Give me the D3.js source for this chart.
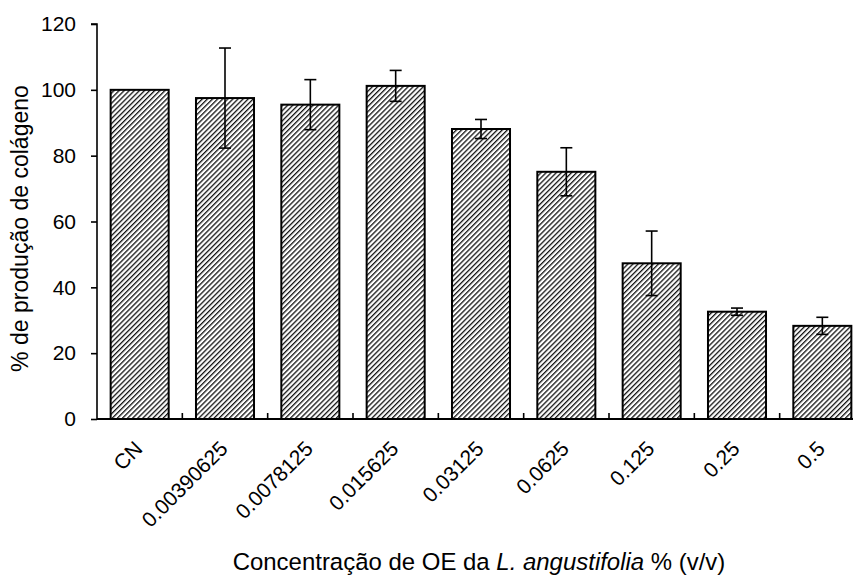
<!DOCTYPE html>
<html><head><meta charset="utf-8">
<script src="https://cdn.jsdelivr.net/npm/d3@7"></script>
<style>body{margin:0;background:#fff}svg{display:block}text{font-family:"Liberation Sans",Arial,sans-serif;fill:#000}</style>
</head><body>
<svg id="c" width="857" height="579"></svg>
<script>
const categories = ["CN","0.00390625","0.0078125","0.015625","0.03125","0.0625","0.125","0.25","0.5"];
const values = [100, 97.5, 95.5, 101.2, 88.1, 75.1, 47.3, 32.6, 28.3];
const errors = [0, 15.2, 7.6, 4.7, 2.9, 7.3, 9.8, 1.1, 2.6];
const yTicks = [0,20,40,60,80,100,120];

(function(){
const svg = d3.select("#c");
const L = 97, R = 865, T = 24, B = 419;
const x = d3.scaleBand().domain(categories).range([L, R]).paddingInner(0.32).paddingOuter(0.16);
const y = d3.scaleLinear().domain([0,120]).range([B, T]);

const defs = svg.append("defs");
const pat = defs.append("pattern").attr("id","hatch").attr("patternUnits","userSpaceOnUse")
  .attr("width",3.6).attr("height",3.6).attr("patternTransform","rotate(45)");
pat.append("rect").attr("width",3.6).attr("height",3.6).attr("fill","#fff");
pat.append("line").attr("x1",0).attr("y1",0).attr("x2",0).attr("y2",3.6).attr("stroke","#111").attr("stroke-width",2.6);

svg.selectAll("rect.bar").data(values).join("rect").attr("class","bar")
  .attr("x",(d,i)=>x(categories[i])).attr("width",x.bandwidth())
  .attr("y",d=>y(d)).attr("height",d=>y(0)-y(d))
  .attr("fill","url(#hatch)").attr("stroke","#000").attr("stroke-width",2);

const eb = svg.append("g").attr("stroke","#000").attr("stroke-width",1.6);
values.forEach((v,i)=>{
  const e = errors[i]; if(!e) return;
  const cx = x(categories[i]) + x.bandwidth()/2;
  eb.append("line").attr("x1",cx).attr("x2",cx).attr("y1",y(v+e)).attr("y2",y(v-e));
  [v+e, v-e].forEach(t=>eb.append("line").attr("x1",cx-6).attr("x2",cx+6).attr("y1",y(t)).attr("y2",y(t)));
});

const ya = svg.append("g").attr("transform",`translate(${L},0)`)
  .call(d3.axisLeft(y).tickValues(yTicks).tickSize(6).tickPadding(15).tickFormat(d3.format("d")));
ya.select(".domain").attr("d",`M-6,${T}H0V${B}`).attr("stroke","#000").attr("stroke-width",1.6);
ya.selectAll(".tick line").attr("stroke","#000").attr("stroke-width",1.6);
ya.selectAll(".tick text").attr("font-size",21).attr("font-family","Liberation Sans, Arial, sans-serif");

const xa = svg.append("g");
xa.append("line").attr("x1",L).attr("x2",853).attr("y1",B).attr("y2",B).attr("stroke","#000").attr("stroke-width",1.8);
const step = x.step();
categories.slice(1).forEach(c=>{
  const bx = x(c) - x.paddingInner()*step/2;
  xa.append("line").attr("x1",bx).attr("x2",bx).attr("y1",B).attr("y2",B-6).attr("stroke","#000").attr("stroke-width",1.6);
});
categories.forEach(c=>{
  const cx = x(c)+x.bandwidth()/2;
  svg.append("text").attr("transform",`translate(${cx+4},${B+31}) rotate(-45)`)
    .attr("text-anchor","end").attr("font-size",21).text(c);
});

const xt = svg.append("text").attr("x",479).attr("y",570).attr("text-anchor","middle").attr("font-size",22);
xt.append("tspan").text("Concentração de OE da ");
xt.append("tspan").attr("font-style","italic").text("L. angustifolia");
xt.append("tspan").text(" % (v/v)");
const yt = svg.append("text").attr("transform","translate(28,228.5) rotate(-90)").attr("text-anchor","middle").attr("font-size",22)
  .text("% de produção de colágeno");
[[xt,493],[yt,287]].forEach(([t,w])=>{
  const len = t.node().getComputedTextLength();
  t.attr("font-size", 22*w/len);
});
})();
</script>
</body></html>
